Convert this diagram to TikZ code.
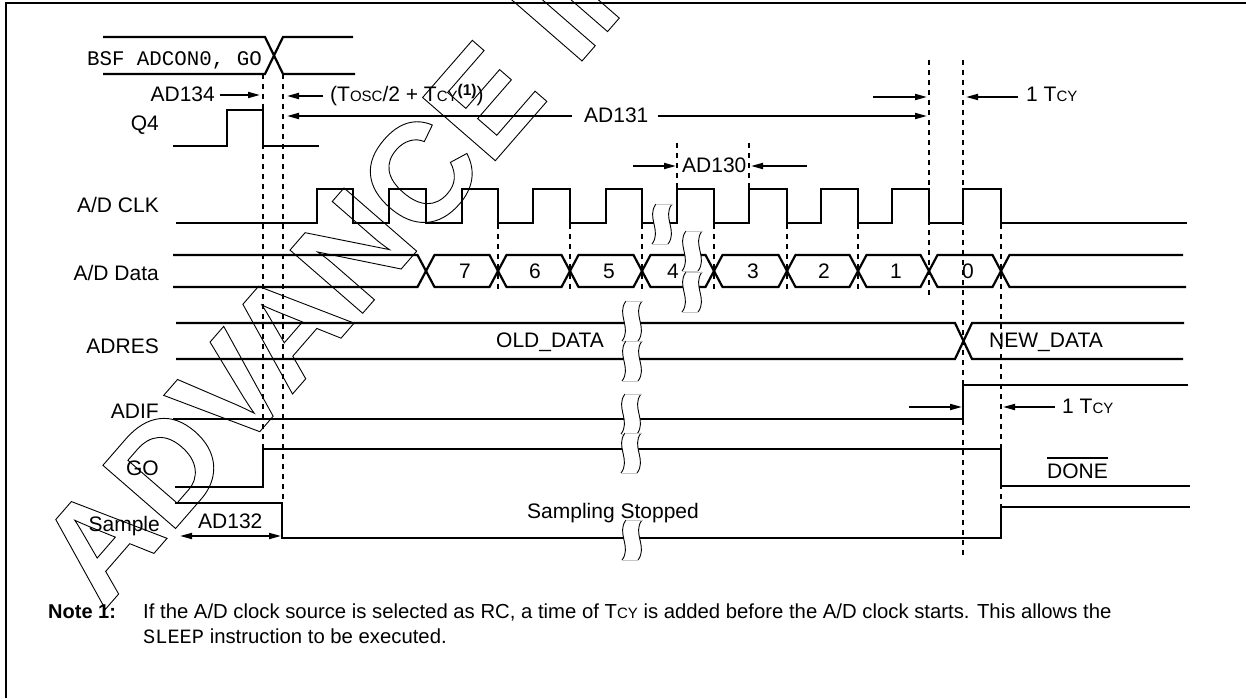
\documentclass[tikz,border=0pt]{standalone}
\usepackage{fontspec}
\setmainfont{Liberation Sans}
\setmonofont{Liberation Mono}
\usetikzlibrary{arrows.meta}
\newcommand\smc[1]{{\fontsize{15}{14}\selectfont #1}}
\tikzset{
  sig/.style={line width=2.2pt, line join=miter},
  guide/.style={line width=2pt, dash pattern=on 5pt off 5pt},
  dimarrow/.style={line width=1.8pt, -{Triangle[length=12pt,width=6pt]}},
  lbl/.style={font=\fontsize{21}{25}\selectfont, inner sep=0pt},
  notefont/.style={font=\fontsize{20.3}{24}\selectfont, inner sep=0pt},
  pics/brk/.style={code={
    \fill[white] (-6,-20) .. controls (-16,-7) and (0,7) .. (-10,20) -- (6,20)
       .. controls (16,7) and (0,-7) .. (10,-20) -- cycle;
    \draw[line width=0.9pt] (-6,-20) .. controls (-16,-7) and (0,7) .. (-10,20);
    \draw[line width=0.9pt] (10,-20) .. controls (0,-7) and (16,7) .. (6,20);
    \draw[gray!45, line width=0.6pt] (-6,-20) -- (10,-20) (-10,20) -- (6,20);
  }},
}
\begin{document}
\begin{tikzpicture}[x=1pt,y=-1pt]
\useasboundingbox (0,0) rectangle (1246,698);
% watermark
\node[rotate=49, anchor=base west, inner sep=0pt, font=\fontsize{140}{140}\selectfont\bfseries] (wm) at (103,612)
  {\special{pdf:literal direct 1 Tr 0.9 w}ADVANCE INFORMATION\special{pdf:literal direct 0 Tr}};
% frame
\draw[line width=2.2pt] (6,698) -- (6,3) -- (1246,3);

% guides
\foreach \x/\a/\b in {263/74/449, 283/74/503, 929/60/297, 963/60/558, 1001/224/538,
   498/224/291, 570/224/291, 642/224/291, 714/224/291, 787/224/291, 858/224/291,
   677/143/189, 749/143/189}
  \draw[guide] (\x,\a) -- (\x,\b);

% BSF row
\draw[sig] (103,37) -- (265,37) -- (283,74) -- (355,74);
\draw[sig] (103,74) -- (265,74) -- (283,37) -- (353,37);
\node[anchor=base east, inner sep=0pt, font=\ttfamily\fontsize{20.8}{24}\selectfont] (bsf) at (262,66) {BSF ADCON0, GO};

% Q4
\draw[sig] (173,146) -- (227,146) -- (227,110) -- (263,110) -- (263,146) -- (319,146);

% A/D CLK
\draw[sig] (176,223) -- (317,223) -- (317,189) -- (353,189) -- (353,223) -- (389,223) -- (389,189)
  -- (426,189) -- (426,223) -- (462,223) -- (462,189) -- (498,189) -- (498,223) -- (533,223)
  -- (533,189) -- (570,189) -- (570,223) -- (606,223) -- (606,189) -- (642,189) -- (642,223)
  -- (677,223) -- (677,189) -- (714,189) -- (714,223) -- (749,223) -- (749,189) -- (787,189)
  -- (787,223) -- (821,223) -- (821,189) -- (858,189) -- (858,223) -- (892,223) -- (892,189)
  -- (929,189) -- (929,223) -- (963,223) -- (963,189) -- (1001,189) -- (1001,223) -- (1187,223);

% A/D Data
\draw[sig] (173,255) -- (417.5,255) -- (426,271) -- (417.5,287) -- (173,287);
\foreach \a/\b in {426/498, 498/570, 570/642, 642/714, 714/787, 787/858, 858/929, 929/1001}
  \draw[sig] (\a,271) -- (\a+8.5,255) -- (\b-8.5,255) -- (\b,271) -- (\b-8.5,287) -- (\a+8.5,287) -- cycle;
\draw[sig] (1183,255) -- (1009.5,255) -- (1001,271) -- (1009.5,287) -- (1186,287);
\foreach \x/\d [count=\i] in {465/7, 535/6, 609/5, 673/4, 753/3, 824/2, 896/1, 968/0}
  \node[lbl] (dig\i) at (\x,271) {\d};

% ADRES
\draw[sig] (176,323) -- (955,323) -- (972,359) -- (1183,359);
\draw[sig] (176,359) -- (955,359) -- (972,323) -- (1184,323);

% ADIF
\draw[sig] (173,419) -- (963,419) -- (963,385) -- (1188,385);

% GO
\draw[sig] (175,487) -- (263,487) -- (263,449) -- (1001,449) -- (1001,486) -- (1190,486);

% Sample
\draw[sig] (175,503) -- (282,503) -- (282,538) -- (1001,538) -- (1001,507) -- (1190,507);

% breaks
\foreach \p in {(662,224), (692,251), (692,292), (632,321), (632,361), (631,414), (631,453), (632,540)}
  \pic at \p {brk};

% signal labels
\node[lbl, anchor=base east] (lq4) at (159,131) {Q4};
\node[lbl, anchor=base east] (lclk) at (159,212) {A/D CLK};
\node[lbl, anchor=base east] (ldata) at (159,280) {A/D Data};
\node[lbl, anchor=base east] (ladres) at (159,353) {ADRES};
\node[lbl, anchor=base east] (ladif) at (159,418) {ADIF};
\node[lbl, anchor=base east] (lgo) at (159,475) {GO};
\node[lbl, anchor=base east] (lsample) at (160,531) {Sample};

% timing annotations
\node[lbl, anchor=base east] (ad134) at (215,102) {AD134};
\coordinate (ad134a) at (220,95);
\coordinate (ad134b) at (260,95);
\draw[dimarrow] (ad134a) -- (ad134b);

\node[lbl, anchor=base west] (tosc) at (330,102)
  {(T\smc{OSC}/2 + T\smc{CY}\raisebox{6.5pt}{\fontsize{15.5}{15}\selectfont\bfseries (1)})};
\coordinate (tosca) at (323,96);
\coordinate (toscb) at (287,96);
\draw[dimarrow] (tosca) -- (toscb);

\node[lbl, anchor=base west] (ad131) at (584,122) {AD131};
\coordinate (ad131l) at (287,116);
\coordinate (ad131r) at (927,116);
\draw[dimarrow] (ad131.west |- ad131l) ++(-12,0) -- (ad131l);
\draw[dimarrow] (ad131.east |- ad131r) ++(9,0) -- (ad131r);

\node[lbl, anchor=base west] (tcy1) at (1026,102) {1 T\smc{CY}};
\coordinate (tcy1a) at (873,97);
\coordinate (tcy1b) at (927,97);
\coordinate (tcy1c) at (1018,97);
\coordinate (tcy1d) at (966,97);
\draw[dimarrow] (tcy1a) -- (tcy1b);
\draw[dimarrow] (tcy1c) -- (tcy1d);

\node[lbl, anchor=base west] (ad130) at (682,172) {AD130};
\coordinate (ad130a) at (633,166);
\coordinate (ad130b) at (676,166);
\coordinate (ad130c) at (807,166);
\coordinate (ad130d) at (751,166);
\draw[dimarrow] (ad130a) -- (ad130b);
\draw[dimarrow] (ad130c) -- (ad130d);

\node[lbl, anchor=base west] (olddata) at (496,347) {OLD\_DATA};
\node[lbl, anchor=base west] (newdata) at (989,347) {NEW\_DATA};

\node[lbl, anchor=base west] (tcy2) at (1062,413) {1 T\smc{CY}};
\coordinate (tcy2a) at (909,407);
\coordinate (tcy2b) at (962,407);
\coordinate (tcy2c) at (1055,407);
\coordinate (tcy2d) at (1003,407);
\draw[dimarrow] (tcy2a) -- (tcy2b);
\draw[dimarrow] (tcy2c) -- (tcy2d);

\node[lbl, anchor=base west] (done) at (1047,478) {DONE};
\draw[line width=1.4pt] ([yshift=5pt]done.north west) -- ([yshift=5pt]done.north east);

\node[lbl, anchor=base west] (sstop) at (527,518) {Sampling Stopped};

\node[lbl, anchor=base west] (ad132) at (198,528) {AD132};
\coordinate (ad132a) at (180,536);
\coordinate (ad132b) at (281,536);
\draw[dimarrow, {Triangle[length=12pt,width=6pt]}-{Triangle[length=12pt,width=6pt]}] (ad132a) -- (ad132b);

% note
\node[notefont, anchor=base west, font=\fontsize{20}{24}\selectfont\bfseries] (notel) at (48,618) {Note 1:};
\node[notefont, anchor=base west] (note1) at (143,618)
  {If the A/D clock source is selected as RC, a time of T\smc{CY} is added before the A/D clock starts. This allows the};
\node[notefont, anchor=base west] (note2) at (143,643)
  {{\ttfamily SLEEP} instruction to be executed.};
\end{tikzpicture}
\end{document}
